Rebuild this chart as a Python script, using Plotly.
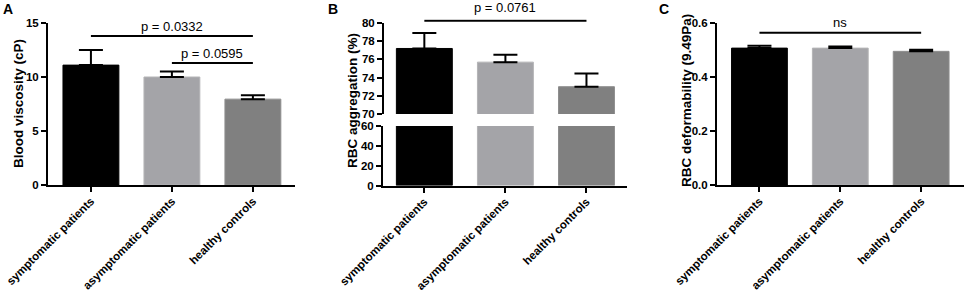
import plotly.graph_objects as go

# ---------------- data ----------------
groups = ["symptomatic patients", "asymptomatic patients", "healthy controls"]
bar_colors = ["#000000", "#a4a4a8", "#808080"]
bar_line_colors = ["#000000", "#b4b4b6", "#8e8e8e"]

viscosity_mean = [11.1, 10.0, 7.95]
viscosity_sem = [1.4, 0.5, 0.36]

aggregation_mean = [77.2, 75.7, 73.0]
aggregation_sem = [1.7, 0.8, 1.45]

deformability_mean = [0.507, 0.507, 0.495]
deformability_sem = [0.009, 0.006, 0.006]

# significance brackets: (from index, to index, height, label)
sig_A = [(0, 2, 13.8, "p = 0.0332"), (1, 2, 11.3, "p = 0.0595")]
sig_B = [(0, 2, 80.25, "p = 0.0761")]
sig_C = [(0, 2, 0.564, "ns")]

ticks_A = [0, 5, 10, 15]
ticks_B_low = [0, 20, 40, 60]
ticks_B_high = [70, 72, 74, 76, 78, 80]
ticks_C = [0.0, 0.2, 0.4, 0.6]

FONT = "Liberation Sans, Arial, sans-serif"
W, H = 964, 294


def py(px):
    return 1 - px / H


def pxx(px):
    return px / W


fig = go.Figure()


def add_bars(xa, ya, means, sems, with_err=True):
    fig.add_trace(go.Bar(
        x=groups, y=means, xaxis=xa, yaxis=ya,
        width=0.69,
        marker=dict(color=bar_colors, line=dict(color=bar_line_colors, width=1)),
        error_y=dict(type="data", symmetric=False, array=sems,
                     arrayminus=[0] * len(sems), color="black",
                     thickness=2, width=12, visible=with_err),
        showlegend=False, hoverinfo="x+y",
    ))


add_bars("x", "y", viscosity_mean, viscosity_sem)
add_bars("x2", "y2", aggregation_mean, aggregation_sem, with_err=False)
add_bars("x3", "y3", aggregation_mean, aggregation_sem)
add_bars("x4", "y4", deformability_mean, deformability_sem)

annotations = []


def add_sig(xa, ya, sigs, yshift):
    for (i, j, h, lab) in sigs:
        fig.add_trace(go.Scatter(
            x=[groups[i], groups[j]], y=[h, h], xaxis=xa, yaxis=ya,
            mode="lines", line=dict(color="black", width=2),
            showlegend=False, hoverinfo="skip",
        ))
        annotations.append(dict(
            x=(i + j) / 2, y=h, xref=xa, yref=ya, text=lab, showarrow=False,
            yanchor="bottom", xanchor="center", yshift=yshift,
            font=dict(family=FONT, size=13, color="black"),
        ))


add_sig("x", "y", sig_A, 0)
add_sig("x3", "y3", sig_B, 4)
add_sig("x4", "y4", sig_C, 1)

xtickfont = dict(family=FONT, size=11.5, color="black", weight="bold")
ytickfont = dict(family=FONT, size=11.5, color="black", weight="bold")

xcommon = dict(type="category", showline=True, linewidth=2, linecolor="black",
               ticks="outside", ticklen=5, tickwidth=2, tickcolor="black",
               tickangle=-45, tickfont=xtickfont, showgrid=False, zeroline=False,
               ticklabelstandoff=-2,
               automargin=False, fixedrange=True)
ycommon = dict(showline=True, linewidth=2, linecolor="black",
               ticks="outside", ticklen=5, tickwidth=2, tickcolor="black",
               tickfont=ytickfont, showgrid=False, zeroline=False,
               automargin=False, fixedrange=True)

# Panel B upper range extends slightly above 80 to hold the bracket
B_high_range = [70, 80.4]
B_high_top_px = 23 - (B_high_range[1] - 80) * (114 - 23) / 10

fig.update_layout(
    width=W, height=H,
    margin=dict(l=0, r=0, t=0, b=0),
    paper_bgcolor="white", plot_bgcolor="white",
    font=dict(family=FONT, color="black"),
    bargap=0.3,
    xaxis=dict(xcommon, domain=[pxx(48), pxx(295)], range=[-0.53, 2.52], anchor="y"),
    yaxis=dict(ycommon, domain=[py(185), py(23)], range=[0, 15], tickvals=ticks_A, anchor="x"),
    xaxis2=dict(xcommon, domain=[pxx(383), pxx(627)], range=[-0.51, 2.5], anchor="y2"),
    yaxis2=dict(ycommon, domain=[py(185.5), py(126)], range=[0, 60], tickvals=ticks_B_low, anchor="x2"),
    xaxis3=dict(xcommon, domain=[pxx(383), pxx(627)], range=[-0.51, 2.5], anchor="y3",
                visible=False, matches="x2"),
    yaxis3=dict(ycommon, domain=[py(114), py(B_high_top_px)], range=B_high_range,
                tickvals=ticks_B_high, anchor="x3", showline=False),
    xaxis4=dict(xcommon, domain=[pxx(717), 1.0], range=[-0.525, 2.53], anchor="y4"),
    yaxis4=dict(ycommon, domain=[py(185), py(23)], range=[0, 0.6], tickvals=ticks_C,
                tickformat=".1f", anchor="x4"),
)

# axis line of the upper B segment, only from 70 to 80
fig.add_shape(type="line", xref="x3 domain", yref="y3", x0=0, x1=0,
              y0=ticks_B_high[0], y1=ticks_B_high[-1],
              line=dict(color="black", width=2), layer="above")

# y-axis titles and panel letters
title_font = dict(family=FONT, size=13.5, color="black", weight="bold")
for x, y, t in [(19, 104, "Blood viscosity (cP)"),
                (352, 101, "RBC aggregation (%)"),
                (686, 101, "RBC deformability (9.49Pa)")]:
    annotations.append(dict(x=pxx(x), y=py(y), xref="paper", yref="paper", text=t,
                            textangle=-90, showarrow=False, xanchor="center",
                            yanchor="middle", font=title_font))

letter_font = dict(family=FONT, size=14, color="black", weight="bold")
for x, y, t in [(8, 9, "A"), (333, 9, "B"), (664, 9, "C")]:
    annotations.append(dict(x=pxx(x), y=py(y), xref="paper", yref="paper", text=t,
                            showarrow=False, xanchor="center", yanchor="middle",
                            font=letter_font))

fig.update_layout(annotations=annotations)

fig.write_html(
    "out.html",
    config={"displayModeBar": False},
    post_script="document.body.style.margin='0';document.body.style.overflow='hidden';",
)
